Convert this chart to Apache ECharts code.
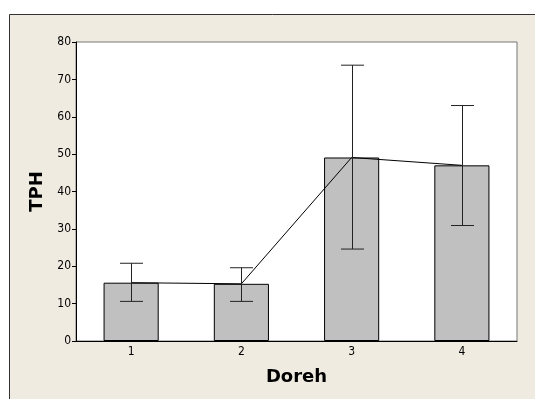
<!DOCTYPE html>
<html><head><meta charset="utf-8">
<script src="https://cdn.jsdelivr.net/npm/echarts@6/dist/echarts.min.js"></script>
<style>html,body{margin:0;padding:0;background:#fff}#c{width:535px;height:399px}</style>
</head><body><div id="c"></div>
<script>
const categories = ['1', '2', '3', '4'];
const means = [15.6, 15.3, 49.1, 47.0];
const errLow = [10.6, 10.6, 24.6, 30.9];
const errHigh = [20.8, 19.6, 73.8, 63.0];
const yTicks = [0, 10, 20, 30, 40, 50, 60, 70, 80];

const chart = echarts.init(document.getElementById('c'), null, {renderer: 'canvas'});
const font = 'Tahoma, "DejaVu Sans Condensed", "DejaVu Sans", sans-serif';
const titleFont = 'Tahoma, "DejaVu Sans", sans-serif';
chart.setOption({
  animation: false,
  backgroundColor: '#ffffff',
  graphic: [{
    type: 'rect', z: -10, silent: true,
    shape: {x: 9.5, y: 14.5, width: 540, height: 400},
    style: {fill: '#EFEBE1', stroke: '#333', lineWidth: 1}
  }, {
    type: 'rect', z: -5, silent: true,
    shape: {x: 76, y: 42, width: 441, height: 299},
    style: {fill: '#ffffff', stroke: '#777', lineWidth: 1}
  }],
  grid: {left: 76, top: 42, right: 18, bottom: 58, containLabel: false},
  xAxis: {
    type: 'category', data: categories,
    name: 'Doreh', nameLocation: 'middle', nameGap: 27,
    nameTextStyle: {fontFamily: titleFont, fontWeight: 'bold', fontSize: 18, color: '#000'},
    axisLine: {lineStyle: {color: '#000', width: 1}},
    axisTick: {alignWithLabel: true, length: 4, lineStyle: {color: '#000'}},
    axisLabel: {fontFamily: font, fontSize: 12, color: '#000', margin: 5}
  },
  yAxis: {
    type: 'value', min: yTicks[0], max: yTicks[yTicks.length - 1], interval: 10,
    name: 'TPH', nameLocation: 'middle', nameGap: 30,
    nameTextStyle: {fontFamily: titleFont, fontWeight: 'bold', fontSize: 18, color: '#000'},
    axisLine: {show: true, lineStyle: {color: '#000', width: 1}},
    axisTick: {show: true, length: 4, lineStyle: {color: '#000'}},
    axisLabel: {fontFamily: font, fontSize: 12, color: '#000', margin: 5},
    splitLine: {show: false}
  },
  series: [{
    type: 'bar', data: means, barCategoryGap: '50%',
    itemStyle: {color: '#C0C0C0', borderColor: '#000', borderWidth: 1},
    z: 2
  }, {
    type: 'line', data: means, symbol: 'none',
    lineStyle: {color: '#000', width: 1}, z: 3
  }, {
    type: 'custom', z: 4,
    data: categories.map((c, i) => [i, errLow[i], errHigh[i]]),
    renderItem: function (params, api) {
      const lo = api.coord([api.value(0), api.value(1)]);
      const hi = api.coord([api.value(0), api.value(2)]);
      const x = Math.round(lo[0]) + 0.5;
      const hw = 11.5;
      const st = {stroke: '#222', lineWidth: 1};
      return {type: 'group', children: [
        {type: 'line', shape: {x1: x, y1: hi[1], x2: x, y2: lo[1]}, style: st},
        {type: 'line', shape: {x1: x - hw, y1: hi[1], x2: x + hw, y2: hi[1]}, style: st},
        {type: 'line', shape: {x1: x - hw, y1: lo[1], x2: x + hw, y2: lo[1]}, style: st}
      ]};
    }
  }]
});
</script></body></html>
